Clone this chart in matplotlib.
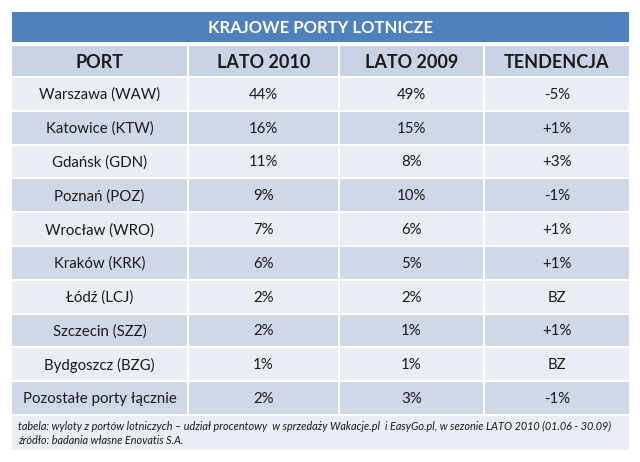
import matplotlib.pyplot as plt
from matplotlib.patches import Rectangle

# Dane tabeli
tytul = 'KRAJOWE PORTY LOTNICZE'
naglowki = ['PORT', 'LATO 2010', 'LATO 2009', 'TENDENCJA']
porty = ['Warszawa (WAW)', 'Katowice (KTW)', 'Gdańsk (GDN)', 'Poznań (POZ)',
         'Wrocław (WRO)', 'Kraków (KRK)', 'Łódź (LCJ)', 'Szczecin (SZZ)',
         'Bydgoszcz (BZG)', 'Pozostałe porty łącznie']
lato_2010 = ['44%', '16%', '11%', '9%', '7%', '6%', '2%', '2%', '1%', '2%']
lato_2009 = ['49%', '15%', '8%', '10%', '6%', '5%', '2%', '1%', '1%', '3%']
tendencja = ['-5%', '+1%', '+3%', '-1%', '+1%', '+1%', 'BZ', '+1%', 'BZ', '-1%']
stopka = ['tabela: wyloty z portów lotniczych – udział procentowy  w sprzedaży Wakacje.pl  i EasyGo.pl, w sezonie LATO 2010 (01.06 - 30.09)',
          'źródło: badania własne Enovatis S.A.']

plt.rcParams['font.family'] = ['Lato', 'DejaVu Sans']

fig = plt.figure(figsize=(6.4, 4.62), dpi=100)
ax = fig.add_axes([0, 0, 1, 1])
ax.set_xlim(0, 640)
ax.set_ylim(462, 0)
ax.axis('off')

# Geometria (piksele)
kolumny = [11, 188, 339, 484, 630]
y_tytul, h_tytul = 11, 32
y_nagl, h_nagl = 45, 32
y_wier, h_wier = 77, 33.8
gap = 1.0

kolor_tekstu = '#1a1a1a'

def komorka(x0, x1, y0, h, kolor):
    ax.add_patch(Rectangle((x0 + gap, y0 + gap), x1 - x0 - 2 * gap, h - 2 * gap,
                           facecolor=kolor, edgecolor='none'))

# Tytuł
komorka(kolumny[0], kolumny[-1], y_tytul, h_tytul, '#4F81BD')
ax.text((kolumny[0] + kolumny[-1]) / 2, y_tytul + h_tytul / 2 + 1, tytul,
        ha='center', va='center', color='white', fontsize=12, fontweight='bold')

# Nagłówki
for i, n in enumerate(naglowki):
    komorka(kolumny[i], kolumny[i + 1], y_nagl, h_nagl, '#CAD3E6')
    ax.text((kolumny[i] + kolumny[i + 1]) / 2, y_nagl + h_nagl / 2 + 1, n,
            ha='center', va='center', color=kolor_tekstu, fontsize=13, fontweight='bold')

# Wiersze danych
for r in range(len(porty)):
    y0 = y_wier + r * h_wier
    kolor = '#E9EDF4' if r % 2 == 0 else '#D0D8E8'
    wartosci = [porty[r], lato_2010[r], lato_2009[r], tendencja[r]]
    for i, w in enumerate(wartosci):
        komorka(kolumny[i], kolumny[i + 1], y0, h_wier, kolor)
        ax.text((kolumny[i] + kolumny[i + 1]) / 2, y0 + h_wier / 2 + 1, w,
                ha='center', va='center', color=kolor_tekstu, fontsize=10.8)

# Stopka
y_stopka = y_wier + len(porty) * h_wier
komorka(kolumny[0], kolumny[-1], y_stopka, 451 - y_stopka, '#E9EDF4')
for k, linia in enumerate(stopka):
    ax.text(kolumny[0] + 7, y_stopka + 11 + k * 14, linia, ha='left', va='center',
            color=kolor_tekstu, fontsize=7.8, fontstyle='italic')

fig.savefig('out.png', dpi=100)
